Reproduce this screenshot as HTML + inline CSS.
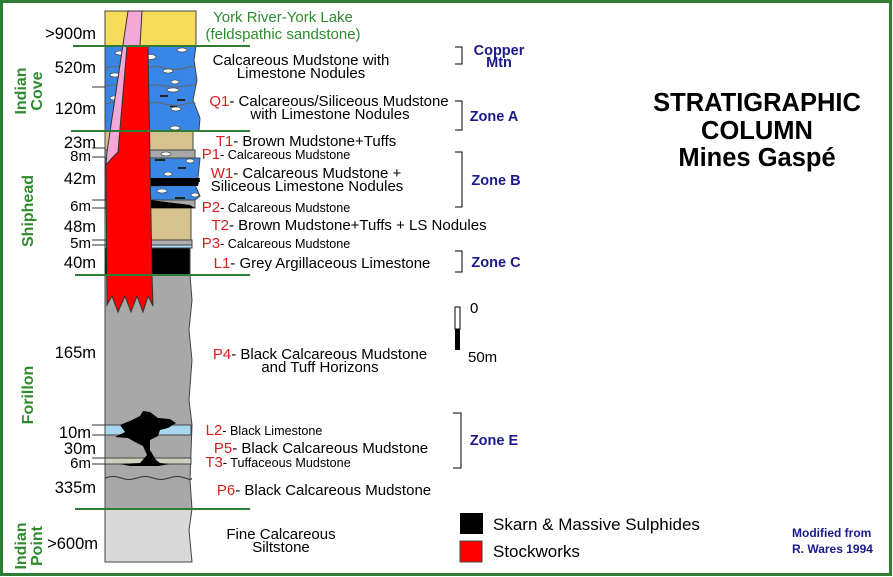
<!DOCTYPE html>
<html><head><meta charset="utf-8"><style>
html,body{margin:0;padding:0;background:#fff}
svg{display:block}
text{font-family:"Liberation Sans",Arial,sans-serif}
</style></head><body>
<svg width="893" height="577" viewBox="0 0 893 577" xmlns="http://www.w3.org/2000/svg">
<rect x="1.5" y="1.5" width="889" height="573" fill="#fff" stroke="#2e7d32" stroke-width="3"/>

<g stroke="#444" stroke-width="1">
<rect x="105" y="11" width="91" height="35" fill="#f7dc5a"/>
<path d="M105 46 H196 L194 60 L197 80 L193 100 L200 118 L199 131 H105 Z" fill="#3a86e6"/>
<rect x="105" y="131" width="88" height="19" fill="#d6c28c"/>
<rect x="105" y="150" width="90" height="8" fill="#a8a8a8"/>
<path d="M105 158 H200 L198 178 L193 182 L160 186 L158 200 L105 200 Z" fill="#3a86e6"/>
<path d="M150 186 L195 185 L200 196 L195 200 H150 Z" fill="#3a86e6"/>
<rect x="105" y="200" width="90" height="8" fill="#a8a8a8"/>
<rect x="105" y="208" width="86" height="32" fill="#d6c28c"/>
<rect x="105" y="240" width="87" height="5" fill="#b0b0b0"/>
<rect x="105" y="245" width="87" height="3" fill="#a8d8f0"/>
<rect x="105" y="248" width="85" height="27" fill="#000"/>
<path d="M105 275 H190 L192 300 L189 330 L192 360 L189 400 L192 425 L190 480 L192 509 H105 Z" fill="#a8a8a8"/>
<rect x="105" y="425" width="86" height="10" fill="#a8d8f0"/>
<rect x="105" y="458" width="86" height="6" fill="#cfcfc0"/>
<path d="M105 509 H192 L189 530 L192 562 H105 Z" fill="#d9d9d9"/>
</g>
<g fill="#fff" stroke="#333" stroke-width="0.6">
<ellipse cx="120" cy="53" rx="5" ry="2"/><ellipse cx="150" cy="57" rx="6" ry="2.5"/><ellipse cx="182" cy="50" rx="5" ry="2"/>
<ellipse cx="115" cy="75" rx="5" ry="2"/><ellipse cx="168" cy="71" rx="5" ry="2"/><ellipse cx="175" cy="82" rx="4" ry="2"/>
<ellipse cx="173" cy="90" rx="6" ry="2"/><ellipse cx="114" cy="98" rx="4" ry="2"/><ellipse cx="176" cy="109" rx="5" ry="2"/>
<ellipse cx="175" cy="128" rx="5" ry="2"/><ellipse cx="166" cy="154" rx="5" ry="2"/><ellipse cx="190" cy="161" rx="4" ry="2"/>
<ellipse cx="168" cy="174" rx="4" ry="2"/><ellipse cx="162" cy="191" rx="5" ry="2"/><ellipse cx="195" cy="195" rx="4" ry="2"/>
</g>
<g stroke="#222" stroke-width="2">
<path d="M160 96 h8 M177 100 h8 M170 106 h7 M155 160 h10 M178 168 h8 M160 181 h40 M175 198 h10"/>
</g>
<path d="M150 178 H200 L198 186 H150 Z M150 200 L190 205 L195 208 H150 Z" fill="#000"/>
<g fill="none" stroke="#666" stroke-width="1">
<path d="M105 68 q10 -3 20 0 t20 0 t20 0 t20 0 t10 0"/>
<path d="M105 86 q10 -2 20 0 t20 0 t20 0 t20 0 t10 0"/>
<path d="M105 104 q10 -3 20 0 t20 0 t20 0 t20 0 t10 0"/>
<path d="M105 478 q8 -3 16 0 t16 0 t16 0 t16 0 t16 0 t6 0" stroke="#333"/>
</g>
<path d="M120 425 L132 420 L140 416 L143 411 L150 412 L158 418 L170 419 L176 423 L168 428 L160 430 L158 436 L150 440 L150 450 L156 460 L160 463 L170 464 L158 466 L130 466 L120 464 L140 463 L147 455 L143 446 L135 442 L128 438 L115 437 L125 432 Z" fill="#000"/>
<path d="M127 46 L148 46 L152 275 L153 306 L148 296 L143 312 L137 296 L131 312 L125 296 L118 312 L112 296 L107 305 L106 165 L112 158 Z" fill="#ff0000" stroke="#333" stroke-width="1"/>
<path d="M128 11 L142 11 L140 46 L127 46 L118 152 L112 158 L106 165 L107 152 Z" fill="#f4a8d8" stroke="#333" stroke-width="1"/>

<g stroke="#2e7d32" stroke-width="2">
<line x1="73" y1="46" x2="250" y2="46"/><line x1="71" y1="131" x2="250" y2="131"/>
<line x1="75" y1="275" x2="250" y2="275"/><line x1="75" y1="509" x2="250" y2="509"/>
</g>
<g stroke="#333" stroke-width="1">
<line x1="92" y1="87" x2="105" y2="87"/>
<line x1="92" y1="148" x2="105" y2="148"/><line x1="92" y1="157" x2="105" y2="157"/>
<line x1="92" y1="200" x2="105" y2="200"/><line x1="92" y1="208" x2="105" y2="208"/>
<line x1="92" y1="240" x2="105" y2="240"/><line x1="92" y1="245" x2="105" y2="245"/>
<line x1="92" y1="425" x2="105" y2="425"/><line x1="92" y1="435" x2="105" y2="435"/>
<line x1="92" y1="458" x2="105" y2="458"/><line x1="92" y1="464" x2="105" y2="464"/>
</g>

<g font-size="16.5" fill="#000" text-anchor="end">
<text x="96" y="39">&gt;900m</text><text x="96" y="73">520m</text><text x="96" y="114">120m</text>
<text x="96" y="148">23m</text><text x="91" y="161" font-size="15">8m</text><text x="96" y="184">42m</text>
<text x="91" y="211" font-size="15">6m</text><text x="96" y="232">48m</text><text x="91" y="248" font-size="15">5m</text>
<text x="96" y="268">40m</text><text x="96" y="358">165m</text><text x="91" y="438">10m</text>
<text x="96" y="454">30m</text><text x="91" y="468" font-size="15">6m</text><text x="96" y="493">335m</text>
<text x="98" y="549">&gt;600m</text>
</g>
<g font-size="16" font-weight="bold" fill="#2e8b2e" text-anchor="middle">
<text transform="translate(26,91) rotate(-90)">Indian</text><text transform="translate(42,91) rotate(-90)">Cove</text>
<text transform="translate(33,211) rotate(-90)">Shiphead</text>
<text transform="translate(33,395) rotate(-90)">Forillon</text>
<text transform="translate(26,546) rotate(-90)">Indian</text><text transform="translate(42,546) rotate(-90)">Point</text>
</g>

<g font-size="15" fill="#000" text-anchor="middle">
<text x="283" y="22" fill="#2e8b2e">York River-York Lake</text>
<text x="283" y="39" fill="#2e8b2e">(feldspathic sandstone)</text>
<text x="301" y="65">Calcareous Mudstone with</text><text x="301" y="78">Limestone Nodules</text>
<text x="329" y="106"><tspan fill="#d42020">Q1</tspan>- Calcareous/Siliceous Mudstone</text>
<text x="330" y="119">with Limestone Nodules</text>
<text x="306" y="146"><tspan fill="#d42020">T1</tspan>- Brown Mudstone+Tuffs</text>
<text x="276" y="159" font-size="12.6"><tspan fill="#d42020" font-size="15">P1</tspan>- Calcareous Mudstone</text>
<text x="306" y="178"><tspan fill="#d42020">W1</tspan>- Calcareous Mudstone +</text>
<text x="307" y="191">Siliceous Limestone Nodules</text>
<text x="276" y="212" font-size="12.6"><tspan fill="#d42020" font-size="15">P2</tspan>- Calcareous Mudstone</text>
<text x="349" y="230"><tspan fill="#d42020">T2</tspan>- Brown Mudstone+Tuffs + LS Nodules</text>
<text x="276" y="248" font-size="12.6"><tspan fill="#d42020" font-size="15">P3</tspan>- Calcareous Mudstone</text>
<text x="322" y="268"><tspan fill="#d42020">L1</tspan>- Grey Argillaceous Limestone</text>
<text x="320" y="359"><tspan fill="#d42020">P4</tspan>- Black Calcareous Mudstone</text>
<text x="320" y="372">and Tuff Horizons</text>
<text x="264" y="435" font-size="12.6"><tspan fill="#d42020" font-size="15">L2</tspan>- Black Limestone</text>
<text x="321" y="453"><tspan fill="#d42020">P5</tspan>- Black Calcareous Mudstone</text>
<text x="278" y="467" font-size="12.6"><tspan fill="#d42020" font-size="15">T3</tspan>- Tuffaceous Mudstone</text>
<text x="324" y="495"><tspan fill="#d42020">P6</tspan>- Black Calcareous Mudstone</text>
<text x="281" y="539">Fine Calcareous</text><text x="281" y="552">Siltstone</text>
</g>

<g fill="none" stroke="#000" stroke-width="1">
<path d="M455 47 H462 V64 H455"/><path d="M455 101 H462 V130 H455"/>
<path d="M455 152 H462 V207 H455"/><path d="M455 251 H462 V272 H455"/>
<path d="M453 413 H461 V468 H453"/>
</g>
<g font-size="14.5" font-weight="bold" fill="#1a1a8c" text-anchor="middle">
<text x="499" y="55">Copper</text><text x="499" y="67">Mtn</text>
<text x="494" y="121">Zone A</text><text x="496" y="185">Zone B</text>
<text x="496" y="267">Zone C</text><text x="494" y="445">Zone E</text>
</g>

<g font-size="25.5" font-weight="bold" fill="#000" text-anchor="middle">
<text x="757" y="111">STRATIGRAPHIC</text><text x="757" y="139">COLUMN</text><text x="757" y="166">Mines Gaspé</text>
</g>

<rect x="455" y="307" width="5" height="22" fill="#fff" stroke="#000" stroke-width="1"/>
<rect x="455" y="329" width="5" height="21" fill="#000"/>
<text x="470" y="313" font-size="15">0</text><text x="468" y="362" font-size="15">50m</text>

<rect x="460" y="513" width="23" height="21" fill="#000"/>
<rect x="460" y="541" width="22" height="21" fill="#ff0000" stroke="#444"/>
<text x="493" y="530" font-size="17">Skarn &amp; Massive Sulphides</text>
<text x="493" y="557" font-size="17">Stockworks</text>
<text x="792" y="537" font-size="12" font-weight="bold" fill="#1a1a8c">Modified from</text>
<text x="792" y="553" font-size="12" font-weight="bold" fill="#1a1a8c">R. Wares 1994</text>
</svg>
</body></html>
